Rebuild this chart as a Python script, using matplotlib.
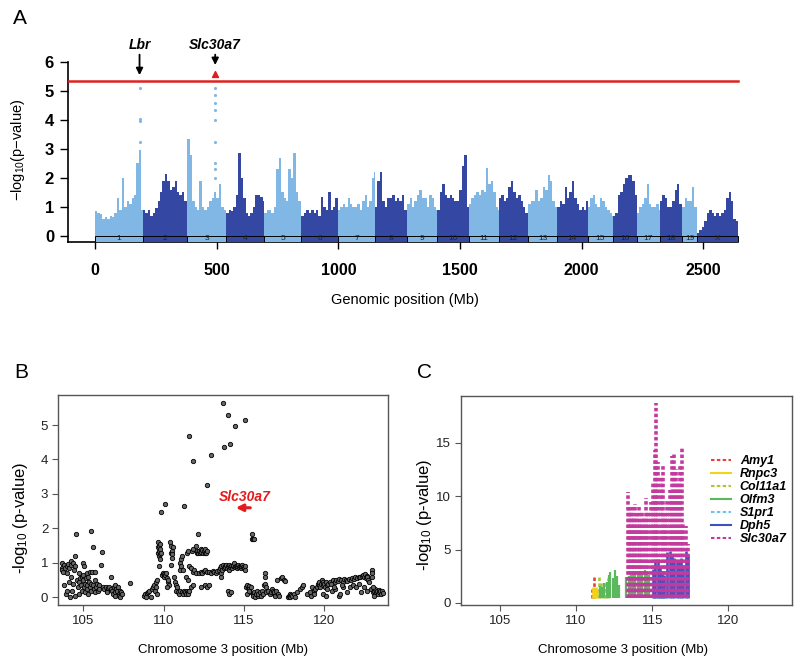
import matplotlib
matplotlib.use("Agg")
import matplotlib.pyplot as plt
from matplotlib.patches import Rectangle
from matplotlib.lines import Line2D
import numpy as np

plt.rcParams['font.family'] = ['Liberation Sans', 'DejaVu Sans']
plt.rcParams['mathtext.fontset'] = 'custom'
plt.rcParams['mathtext.rm'] = 'Liberation Sans'
plt.rcParams['mathtext.it'] = 'Liberation Sans:italic'
plt.rcParams['mathtext.default'] = 'regular'
plt.rcParams['lines.scale_dashes'] = False

# ---------------- Panel A data ----------------
chrom_names = ['1', '2', '3', '4', '5', '6', '7', '8', '9', '10', '11', '12', '13',
               '14', '15', '16', '17', '18', '19', 'X']
chrom_len = [197, 182, 160, 156, 153, 150, 153, 132, 124, 130, 122, 121, 120,
             125, 104, 98, 95, 91, 61, 167]
# peak -log10(p) per 10 Mb bin, per chromosome
env_chr1 = [0.85, 0.8, 0.75, 0.6, 0.65, 0.6, 0.7, 0.65, 0.8, 1.3, 0.9, 2.0, 1.0, 1.2, 1.1, 1.3, 1.4, 2.5, 2.95, 0.9]
env_chr2 = [0.9, 0.8, 0.9, 0.7, 0.8, 0.95, 1.2, 1.5, 1.9, 2.15, 1.9, 1.6, 1.7, 1.9, 1.5, 1.4, 1.5, 1.2, 0.9]
env_chr3 = [3.35, 2.8, 1.2, 1.0, 0.9, 1.9, 1.0, 0.9, 1.0, 1.2, 1.3, 1.5, 1.3, 1.8, 1.0, 0.9]
env_chr4 = [0.8, 0.9, 0.85, 1.0, 1.4, 2.85, 2.0, 1.3, 0.8, 0.7, 0.8, 1.0, 1.4, 1.4, 1.35, 1.2]
env_chr5 = [0.8, 0.9, 0.9, 0.8, 1.0, 2.3, 2.7, 1.5, 1.3, 1.2, 2.3, 2.0, 2.85, 1.5, 1.2, 1.0]
env_chr6 = [0.7, 0.8, 0.9, 0.8, 0.9, 0.8, 0.9, 0.7, 1.35, 1.0, 0.9, 1.5, 0.9, 1.0, 1.3]
env_chr7 = [0.9, 1.0, 1.1, 1.0, 1.3, 1.1, 1.0, 1.0, 1.1, 0.9, 1.2, 1.4, 1.0, 1.2, 2.0, 2.2]
env_chr8 = [1.0, 1.9, 2.2, 1.2, 1.0, 1.3, 1.3, 1.4, 1.2, 1.3, 1.2, 1.4, 0.9, 0.8]
env_chr9 = [1.1, 1.3, 1.0, 1.2, 1.4, 1.6, 1.3, 1.3, 1.0, 1.4, 1.3, 1.0, 0.9]
env_chr10 = [0.9, 1.5, 1.8, 1.4, 1.3, 1.4, 1.3, 1.2, 1.2, 1.6, 2.4, 2.8, 1.0]
env_chr11 = [1.1, 1.3, 1.4, 1.5, 1.4, 1.6, 1.5, 2.35, 1.8, 1.9, 1.5, 1.0, 0.9]
env_chr12 = [1.3, 1.4, 1.2, 1.3, 1.7, 1.9, 1.5, 1.3, 1.4, 1.2, 1.0, 0.8, 0.9]
env_chr13 = [1.1, 1.2, 1.2, 1.6, 1.2, 1.3, 1.7, 1.6, 2.1, 1.9, 1.2, 1.0]
env_chr14 = [1.0, 1.2, 1.1, 1.7, 1.3, 1.5, 1.9, 1.3, 1.1, 0.9, 1.0, 0.9, 1.2]
env_chr15 = [1.0, 1.3, 1.4, 1.1, 1.0, 1.3, 1.2, 1.0, 0.9, 0.8, 0.7]
env_chr16 = [0.7, 0.8, 1.4, 1.5, 1.8, 2.0, 2.1, 2.1, 1.9, 1.4]
env_chr17 = [0.8, 1.0, 1.1, 1.3, 1.8, 1.1, 1.0, 1.0, 1.1, 0.9]
env_chr18 = [1.2, 1.4, 1.3, 1.0, 1.0, 1.2, 1.6, 1.8, 1.1, 0.9]
env_chr19 = [1.0, 1.3, 1.2, 1.2, 1.7, 1.0, 0.8]
env_chrX = [0.1, 0.2, 0.3, 0.5, 0.8, 0.9, 0.8, 0.7, 0.8, 0.7, 0.8, 0.9, 1.3, 1.5, 1.2, 0.6, 0.5]
envelopes = [env_chr1, env_chr2, env_chr3, env_chr4, env_chr5, env_chr6, env_chr7, env_chr8,
             env_chr9, env_chr10, env_chr11, env_chr12, env_chr13, env_chr14, env_chr15,
             env_chr16, env_chr17, env_chr18, env_chr19, env_chrX]
# isolated top SNPs
lbr_chr_pos = 183
lbr_logp = [5.1, 4.05, 3.95, 3.25]
slc_chr3_pos = 115
slc_logp = [5.1, 4.85, 4.6, 4.35, 4.0, 3.25, 2.5, 2.3, 2.0]
slc_top = 5.58
threshold = 5.35
a_xticks = [0, 500, 1000, 1500, 2000, 2500]
a_yticks = [0, 1, 2, 3, 4, 5, 6]

# ---------------- Panel B data ----------------
b_pos = [
    103.65, 103.7, 103.7, 103.75, 103.8, 103.8, 103.85, 103.9, 103.95, 104.0, 104.0, 104.05, 104.1, 104.1,
    104.15, 104.2, 104.2, 104.25, 104.3, 104.35, 104.35, 104.4, 104.45, 104.5, 104.5, 104.55, 104.6, 104.65,
    104.7, 104.7, 104.75, 104.8, 104.85, 104.9, 104.9, 104.95, 105.0, 105.0, 105.05, 105.05, 105.1, 105.1,
    105.15, 105.2, 105.2, 105.25, 105.3, 105.3, 105.35, 105.4, 105.4, 105.45, 105.48, 105.5, 105.55, 105.6,
    105.6, 105.65, 105.7, 105.7, 105.75, 105.8, 105.85, 105.9, 105.95, 106.0, 106.17, 106.1, 106.2,
    106.3, 106.4, 106.45, 106.5, 106.55, 106.6, 106.7, 106.73, 106.8, 106.85, 106.9, 106.95, 107.0, 107.0,
    107.05, 107.1, 107.15, 107.2, 107.25, 107.3, 107.3, 107.35, 107.4, 107.9,
    108.8, 108.85, 108.9, 108.95, 109.05, 109.1, 109.2, 109.25, 109.35, 109.4, 109.45, 109.5, 109.55, 109.6, 109.6,
    109.65, 109.65, 109.68, 109.7, 109.7, 109.72, 109.75, 109.75, 109.8, 109.8, 109.85, 109.7, 109.84, 110.07,
    109.9, 109.95, 110.0, 110.05, 110.1, 110.15, 110.2, 110.25, 110.3, 110.35, 110.2,
    110.4, 110.45, 110.45, 110.5, 110.55, 110.6, 110.5, 110.45,
    110.65, 110.7, 110.75, 110.8, 110.85, 110.9, 110.95, 111.0, 111.0, 111.05, 111.1, 111.1, 111.15, 111.2,
    111.15, 111.25,
    111.2, 111.3, 111.35, 111.4, 111.45, 111.5, 111.55, 111.6, 111.4, 111.5,
    111.45, 111.55, 111.6, 111.7, 111.75, 111.8, 111.85, 111.9, 112.0, 112.0, 112.05, 111.7, 111.8,
    112.1, 112.15, 112.2, 112.25, 112.3, 112.35, 112.4, 112.45, 112.5, 112.55, 112.6, 112.65, 112.7,
    112.2, 112.3, 112.4, 112.5, 112.6, 112.7, 112.6, 112.7, 112.8, 112.3,
    112.85, 112.95, 113.05, 113.15, 113.25, 113.35, 113.45,
    113.5, 113.55, 113.6, 113.6, 113.65, 113.7, 113.75, 113.8, 113.85, 113.9, 113.95, 114.0, 114.05, 114.1,
    114.15, 114.2, 114.25, 114.3, 114.35, 114.4, 114.45, 114.5, 114.55, 114.6, 114.65, 114.7, 114.75, 114.8,
    114.85, 114.9, 114.95, 115.0, 115.05, 115.1, 114.0, 114.05, 114.2,
    113.68, 113.99, 114.47, 115.07, 111.59, 111.86, 112.94, 113.78, 114.15, 112.71, 112.16,
    115.5, 115.5, 115.58, 115.66,
    115.15, 115.2, 115.25, 115.3, 115.35, 115.4, 115.45, 115.2, 115.3,
    115.55, 115.6, 115.65, 115.7, 115.75, 115.8, 115.85, 115.9, 116.0, 116.05, 116.1, 116.2, 116.25, 116.3,
    116.35, 116.3, 116.3, 116.4, 116.5, 116.6, 116.7, 116.75, 116.8, 116.85, 116.9, 116.95, 117.0, 117.05,
    117.1, 117.2, 117.3, 117.4, 117.5, 117.55,
    117.75, 117.8, 117.85, 117.9, 117.95, 118.0, 118.1, 118.2, 118.3,
    118.5, 118.6, 118.7, 118.95, 119.1, 119.2, 119.25, 119.35, 119.4, 119.45,
    119.55, 119.6, 119.65, 119.7, 119.75, 119.8, 119.85, 119.9, 119.95, 120.0, 120.05, 120.1, 120.15, 120.2,
    120.25, 119.9, 120.1,
    120.35, 120.45, 120.55, 120.65, 120.75, 120.85, 120.95, 121.05, 121.15, 121.25, 121.35, 121.45, 121.55,
    121.65, 121.75, 121.85, 121.95, 122.05, 122.15, 122.25, 122.35, 120.5, 120.7, 120.9, 121.0, 121.2, 121.4,
    121.6, 121.8, 122.0, 122.2, 122.3, 120.6, 121.1,
    122.45, 122.5, 122.55, 122.6, 122.65, 122.7, 122.75, 122.8, 122.5, 122.7,
    122.95, 123.0, 123.0, 123.0, 123.05, 123.1, 123.15, 123.2, 123.25, 123.3, 123.35, 123.4, 123.45, 123.5,
    123.55, 123.6, 123.65, 123.05, 123.1]
b_logp = [
    0.85, 0.8, 1.0, 0.75, 0.95, 0.35, 0.85, 0.1, 0.9, 0.72, 0.2, 0.98, 0.85, 0.45,
    0.0, 1.05, 0.6, 0.95, 0.2, 1.0, 0.4, 0.8, 1.2, 0.9, 0.05, 1.83, 0.5, 0.3,
    0.7, 0.1, 0.45, 0.55, 0.35, 0.6, 0.2, 0.65, 0.5, 1.0, 0.3, 0.9, 0.4, 0.15,
    0.55, 0.7, 0.25, 0.35, 0.6, 0.1, 0.45, 0.3, 0.75, 0.2, 1.94, 0.4, 0.75, 1.47,
    0.35, 0.25, 0.5, 0.15, 0.75, 0.3, 0.4, 0.2, 0.35, 0.25, 1.32, 0.95, 0.3,
    0.25, 0.3, 0.2, 0.15, 0.28, 0.3, 0.25, 0.6, 0.2, 0.1, 0.3, 0.15, 0.35, 0.05,
    0.25, 0.2, 0.3, 0.1, 0.05, 0.2, 0.0, 0.15, 0.1, 0.41,
    0.05, 0.1, 0.0, 0.12, 0.15, 0.2, 0.0, 0.25, 0.3, 0.35, 0.2, 0.45, 0.3, 0.5, 0.1,
    1.6, 1.45, 1.3, 1.5, 1.2, 1.35, 1.55, 1.1, 1.4, 1.25, 1.3, 0.9, 2.48, 2.7,
    0.65, 0.7, 0.68, 0.6, 0.65, 0.7, 0.55, 0.45, 0.5, 0.35, 0.3,
    1.6, 1.5, 1.3, 1.35, 1.25, 1.45, 1.15, 0.95,
    0.6, 0.45, 0.35, 0.2, 0.3, 0.15, 0.1, 0.2, 0.8, 1.0, 0.9, 1.1, 1.2, 0.8,
    0.15, 2.65,
    0.1, 0.2, 0.15, 0.1, 0.2, 0.15, 0.1, 0.2, 0.6, 0.5,
    1.3, 1.35, 0.9, 0.85, 1.35, 0.75, 1.4, 0.8, 1.5, 0.7, 1.3, 0.3, 0.35,
    1.35, 1.3, 1.35, 1.3, 1.4, 1.32, 1.38, 1.3, 1.35, 1.28, 1.4, 1.3, 1.35,
    0.7, 0.75, 0.72, 0.78, 0.8, 0.75, 0.35, 0.3, 0.35, 0.3,
    0.75, 0.72, 0.78, 0.74, 0.7, 0.78, 0.8,
    0.85, 0.7, 0.9, 0.6, 0.8, 0.95, 0.85, 0.9, 0.88, 0.95, 0.85, 0.9, 0.8, 0.95,
    0.88, 0.92, 0.85, 0.9, 0.95, 1.0, 0.88, 0.92, 0.85, 0.9, 0.95, 0.88, 0.92, 0.85,
    0.9, 0.95, 0.88, 0.85, 0.9, 0.8, 0.2, 0.1, 0.15,
    5.65, 5.29, 4.97, 5.14, 4.68, 3.95, 4.13, 4.35, 4.46, 3.26, 1.83,
    1.83, 1.68, 1.68, 1.68,
    0.3, 0.35, 0.28, 0.32, 0.25, 0.15, 0.3, 0.1, 0.2,
    0.1, 0.05, 0.15, 0.0, 0.1, 0.2, 0.05, 0.1, 0.15, 0.05, 0.2, 0.1, 0.35, 0.4,
    0.3, 0.7, 0.6, 0.15, 0.2, 0.1, 0.15, 0.25, 0.2, 0.1, 0.15, 0.05, 0.2, 0.5,
    0.1, 0.05, 0.55, 0.6, 0.5, 0.48,
    0.0, 0.05, 0.1, 0.0, 0.08, 0.05, 0.1, 0.0, 0.15,
    0.25, 0.3, 0.35, 0.1, 0.15, 0.05, 0.3, 0.2, 0.1, 0.25,
    0.3, 0.4, 0.35, 0.45, 0.3, 0.4, 0.5, 0.35, 0.45, 0.4, 0.3, 0.45, 0.35, 0.25,
    0.4, 0.1, 0.05,
    0.45, 0.4, 0.5, 0.45, 0.5, 0.48, 0.52, 0.5, 0.45, 0.52, 0.5, 0.48, 0.52,
    0.5, 0.55, 0.52, 0.58, 0.55, 0.6, 0.58, 0.62, 0.2, 0.25, 0.05, 0.1, 0.3, 0.15,
    0.3, 0.35, 0.3, 0.4, 0.15, 0.3, 0.35,
    0.65, 0.6, 0.68, 0.55, 0.62, 0.58, 0.5, 0.45, 0.3, 0.2,
    0.25, 0.8, 0.7, 0.6, 0.15, 0.2, 0.1, 0.25, 0.15, 0.2, 0.1, 0.22, 0.15, 0.2,
    0.1, 0.18, 0.12, 0.3, 0.05]
bc_xticks = [105, 110, 115, 120]
b_yticks = [0, 1, 2, 3, 4, 5]
c_yticks = [0, 5, 10, 15]

# ---------------- Panel C data ----------------
gene_names = ['Amy1', 'Rnpc3', 'Col11a1', 'Olfm3', 'S1pr1', 'Dph5', 'Slc30a7']
amy1_pos = [111.05, 111.2]
amy1_h = [1.3, 2.4]
rnpc3_pos = [111.1, 111.2, 111.3, 111.4]
rnpc3_h = [1.5, 1.4, 1.5, 1.3]
col11a1_pos = [111.5, 111.65, 111.8, 111.95, 112.1]
col11a1_h = [2.4, 1.9, 2.0, 1.9, 2.3]
olfm3_pos = [111.55, 111.7, 111.85, 112.0, 112.15, 112.25, 112.4, 112.55, 112.7, 112.85,
             113.3, 113.45, 113.6, 113.75, 113.9, 114.05, 114.2, 114.35, 114.5, 114.65, 114.8]
olfm3_h = [1.6, 1.5, 1.9, 2.0, 2.6, 2.9, 2.3, 3.1, 2.5, 1.7,
           2.4, 2.5, 2.6, 2.8, 2.9, 2.8, 3.0, 2.9, 3.1, 2.8, 2.6]
s1pr1_pos = [115.1, 115.25, 115.4, 115.55, 115.7, 115.85]
s1pr1_h = [3.3, 3.1, 3.4, 3.2, 2.9, 3.3]
dph5_pos = [115.05, 115.2, 115.35, 115.5, 115.65, 115.8, 116.0, 116.15, 116.3, 116.45,
            116.6, 116.75, 116.9, 117.05, 117.2, 117.35]
dph5_h = [3.2, 3.9, 4.1, 3.5, 3.0, 2.6, 4.8, 4.9, 4.6, 4.2, 3.8, 4.0, 4.2, 3.6, 4.9, 4.5]
slc30a7_pos = [113.4, 113.5, 113.6, 113.7, 113.8, 113.9, 114.0, 114.1, 114.2, 114.3, 114.45,
               114.6, 114.75, 114.9, 115.05, 115.15, 115.27, 115.4, 115.55, 115.7, 115.85,
               116.0, 116.15, 116.3, 116.4, 116.55, 116.7, 116.85, 116.95, 117.05, 117.2, 117.35]
slc30a7_h = [10.4, 9.0, 8.6, 9.2, 8.0, 9.3, 8.4, 9.1, 7.8, 8.5, 8.0,
             9.8, 8.6, 9.5, 11.2, 14.3, 18.7, 13.2, 11.8, 12.8, 8.4,
             9.7, 10.6, 13.8, 14.0, 12.5, 11.3, 12.9, 14.5, 7.6, 7.2, 5.5]
c_base = 0.5

# ---------------- Figure ----------------
W, H = 800, 663
fig = plt.figure(figsize=(W / 100, H / 100), dpi=100)

def fx(px):
    return px / W

def fy(py):
    return 1 - py / H

light = '#80b7e5'
dark = '#3447a3'

# Panel A
axA = fig.add_axes([fx(68), fy(241.7), fx(750 - 68), (241.7 - 62) / H])
xmin_a, xmax_a = -111, 2692
axA.set_xlim(xmin_a, xmax_a)
axA.set_ylim(-0.2, 6.0)
offsets = np.concatenate([[0], np.cumsum(chrom_len)[:-1]])
genome_end = float(np.sum(chrom_len))
for i, (off, L, env) in enumerate(zip(offsets, chrom_len, envelopes)):
    col = light if i % 2 == 0 else dark
    starts = off + 10 * np.arange(len(env))
    widths = np.minimum(10, off + L - starts)
    axA.bar(starts, env, width=widths, align='edge', color=col, linewidth=0, zorder=2)
    axA.add_patch(Rectangle((off, -0.2), L, 0.2, facecolor=col, edgecolor='black',
                            linewidth=0.7, zorder=3))
    axA.text(off + L / 2, -0.1, chrom_names[i], ha='center', va='center', fontsize=6,
             color='#222222', zorder=4)
lbr_x = lbr_chr_pos
slc_x = offsets[2] + slc_chr3_pos
axA.scatter([lbr_x] * len(lbr_logp), lbr_logp, s=1.5, color=light, zorder=2)
axA.scatter([slc_x] * len(slc_logp), slc_logp, s=1.5, color=light, zorder=2)
axA.plot([xmin_a, genome_end], [threshold, threshold], color='#dd2222', lw=1.8, zorder=5)
axA.scatter([slc_x], [slc_top], marker='^', s=18, color='#e41a1c', zorder=6, clip_on=False)
for gx, txt, tip in [(lbr_x, 'Lbr', 5.45), (slc_x, 'Slc30a7', 5.8)]:
    axA.annotate('', xy=(gx, tip), xytext=(gx, 6.35), annotation_clip=False,
                 arrowprops=dict(arrowstyle='-|>', color='black', lw=1.3, mutation_scale=10))
    axA.text(gx, 6.6, txt, ha='center', va='center', fontsize=10, fontweight='bold',
             fontstyle='italic', clip_on=False)
for s in ['top', 'right']:
    axA.spines[s].set_visible(False)
axA.spines['left'].set_bounds(-0.2, 6)
axA.spines['bottom'].set_bounds(xmin_a, genome_end)
axA.spines['left'].set_linewidth(1.2)
axA.spines['bottom'].set_linewidth(1.2)
axA.set_xticks(a_xticks)
axA.set_yticks(a_yticks)
axA.tick_params(axis='x', length=5, width=1, pad=10, labelsize=11.5)
axA.tick_params(axis='y', length=6, width=1, pad=4, labelsize=12)
for lab in axA.get_xticklabels() + axA.get_yticklabels():
    lab.set_fontweight('bold')
fig.text(fx(405), fy(300), 'Genomic position (Mb)', ha='center', va='center', fontsize=10.5)
fig.text(fx(18), fy(150), r'$-$log$_{10}$(p$-$value)', rotation=90, ha='center', va='center',
         fontsize=10.5)

# Panel B
axB = fig.add_axes([fx(58), fy(605), fx(330), 210 / H])
axB.set_xlim(103.42, 123.98)
axB.set_ylim(-0.22, 5.87)
axB.scatter(b_pos, b_logp, s=10, facecolor='#666666', edgecolor='black', linewidth=0.6, zorder=3)
axB.text(115.07, 2.91, 'Slc30a7', color='#e41a1c', fontsize=10, fontweight='bold',
         fontstyle='italic', ha='center', va='center')
axB.annotate('', xy=(114.5, 2.6), xytext=(115.4, 2.6),
             arrowprops=dict(arrowstyle='-|>', color='#e41a1c', lw=2.2, mutation_scale=10,
                             shrinkA=0, shrinkB=0))
axB.set_xticks(bc_xticks)
axB.set_yticks(b_yticks)

# Panel C
axC = fig.add_axes([fx(461), fy(605), fx(331), 209 / H])
axC.set_xlim(102.44, 124.18)
axC.set_ylim(-0.19, 19.38)
gene_data = [(amy1_pos, amy1_h), (rnpc3_pos, rnpc3_h), (col11a1_pos, col11a1_h),
             (olfm3_pos, olfm3_h), (s1pr1_pos, s1pr1_h), (dph5_pos, dph5_h),
             (slc30a7_pos, slc30a7_h)]
gene_colors = ['#e8413c', '#f2d21a', '#a8c83a', '#5cb85c', '#6cc4e8', '#3f51c0', '#c4399e']
dash = (0, (2.5, 1.7))
gene_styles = [dash, '-', dash, '-', dash, '-', dash]
gene_lw = [1.9, 1.9, 1.9, 1.6, 1.9, 1.9, 2.6]
handles = []
for name, (pos, h), col, ls, lw in zip(gene_names, gene_data, gene_colors, gene_styles, gene_lw):
    axC.vlines(pos, c_base, h, colors=col, linestyles=ls, linewidth=lw)
    handles.append(Line2D([0], [0], color=col, linestyle=ls, lw=1.5, label=name))
leg = axC.legend(handles=handles, loc='upper left', bbox_to_anchor=(fx(711), fy(455)),
                 bbox_transform=fig.transFigure, frameon=False, handlelength=1.6,
                 handletextpad=0.7, labelspacing=0.08, borderpad=0, borderaxespad=0,
                 prop=dict(size=9, weight='bold', style='italic'))
axC.set_xticks(bc_xticks)
axC.set_yticks(c_yticks)

for ax in (axB, axC):
    for s in ax.spines.values():
        s.set_color('#555555')
        s.set_linewidth(1.0)
    ax.tick_params(length=4, width=0.8, color='#555555', labelsize=9.5, labelcolor='#222222', pad=3)

fig.text(fx(223), fy(650), 'Chromosome 3 position (Mb)', ha='center', va='center', fontsize=9.5)
fig.text(fx(623), fy(650), 'Chromosome 3 position (Mb)', ha='center', va='center', fontsize=9.5)
fig.text(fx(21), fy(518), r'-log$_{10}$ (p-value)', rotation=90, ha='center', va='center', fontsize=12)
fig.text(fx(425), fy(515), r'-log$_{10}$ (p-value)', rotation=90, ha='center', va='center', fontsize=12)

fig.text(fx(20), fy(19), 'A', ha='center', va='center', fontsize=15)
fig.text(fx(21), fy(373), 'B', ha='center', va='center', fontsize=15)
fig.text(fx(425), fy(373), 'C', ha='center', va='center', fontsize=15)

fig.savefig('out.png', dpi=100)
